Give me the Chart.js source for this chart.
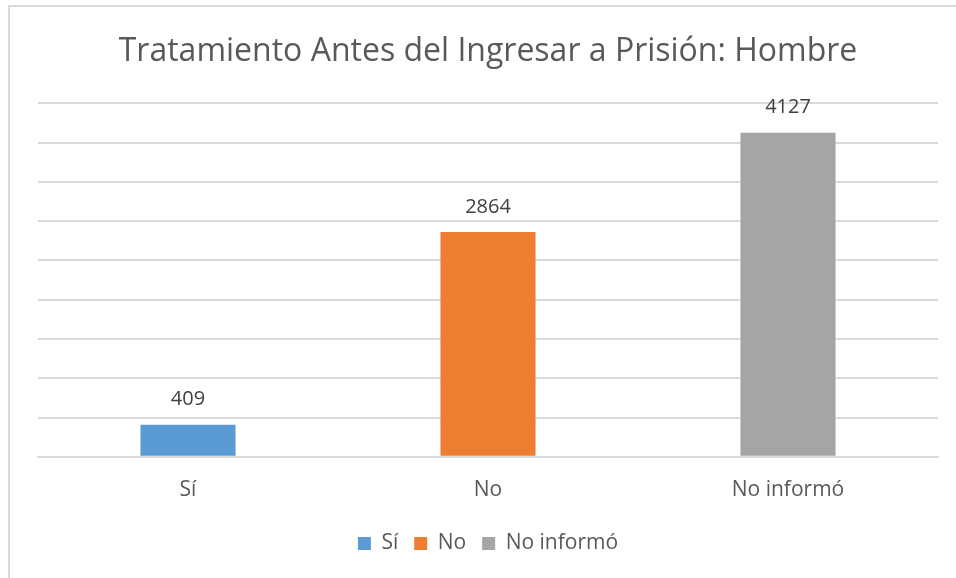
<!DOCTYPE html>
<html>
<head>
<meta charset="utf-8">
<script src="https://cdn.jsdelivr.net/npm/chart.js@4/dist/chart.umd.min.js"></script>
<style>
  html, body { margin: 0; padding: 0; background: #fff; overflow: hidden; }
  #frame { position: absolute; left: 8px; top: 5px; width: 1000px; height: 1000px; border: 2px solid #d9d9d9; box-sizing: border-box; }
  #wrap { position: absolute; left: 0; top: 0; width: 956px; height: 578px; }
</style>
</head>
<body>
<div id="frame"></div>
<div id="wrap"><canvas id="chartHombre"></canvas></div>
<script>
const categorias = ['Sí', 'No', 'No informó'];
const valores = [409, 2864, 4127];
const colores = ['#5B9BD5', '#ED7D31', '#A5A5A5'];
const titulo = 'Tratamiento Antes del Ingresar a Prisión: Hombre';

const fuente = "'Open Sans', 'Noto Sans', sans-serif";

// etiquetas de valor encima de cada barra
const etiquetasValor = {
    id: 'etiquetasValor',
    afterDatasetsDraw(chart) {
        const ctx = chart.ctx;
        const meta = chart.getDatasetMeta(0);
        ctx.save();
        ctx.fillStyle = '#404040';
        ctx.font = '20px ' + fuente;
        ctx.textAlign = 'center';
        ctx.textBaseline = 'middle';
        meta.data.forEach((bar, i) => {
            ctx.fillText(String(valores[i]), bar.x, bar.y - 25);
        });
        ctx.restore();
    }
};

function displayChart() {
    const ctx = document.getElementById('chartHombre').getContext('2d');
    const chart = new Chart(ctx, {
        type: 'bar',
        data: {
            labels: categorias,
            datasets: [{
                data: valores,
                backgroundColor: colores,
                barPercentage: 0.317,
                categoryPercentage: 1,
            }]
        },
        options: {
            responsive: true,
            maintainAspectRatio: false,
            animation: false,
            layout: { padding: { left: 38, right: 18, top: 0, bottom: 14 } },
            plugins: {
                title: {
                    display: true,
                    text: titulo,
                    color: '#595959',
                    font: { family: fuente, size: 32, weight: 'normal' },
                    padding: { top: 33, bottom: 32 },
                },
                legend: {
                    position: 'bottom',
                    labels: {
                        color: '#595959',
                        font: { family: fuente, size: 21 },
                        boxWidth: 13,
                        boxHeight: 13,
                        padding: 16,
                        generateLabels: () => categorias.map((c, i) => ({
                            text: c,
                            fillStyle: colores[i],
                            strokeStyle: colores[i],
                            lineWidth: 0,
                            fontColor: '#595959',
                            index: i,
                        })),
                    },
                },
                tooltip: { enabled: false },
            },
            scales: {
                x: {
                    grid: { display: false, drawTicks: false },
                    border: { color: '#d9d9d9', width: 2 },
                    ticks: { color: '#595959', font: { family: fuente, size: 21 }, padding: 21 },
                    afterFit(scale) { scale.height -= 7; },
                },
                y: {
                    min: 0,
                    max: 4500,
                    ticks: { display: false, stepSize: 500 },
                    grid: { color: '#d9d9d9', lineWidth: 2, drawTicks: false },
                    border: { display: false },
                },
            },
        },
        plugins: [etiquetasValor],
    });
}

displayChart();
</script>
</body>
</html>
